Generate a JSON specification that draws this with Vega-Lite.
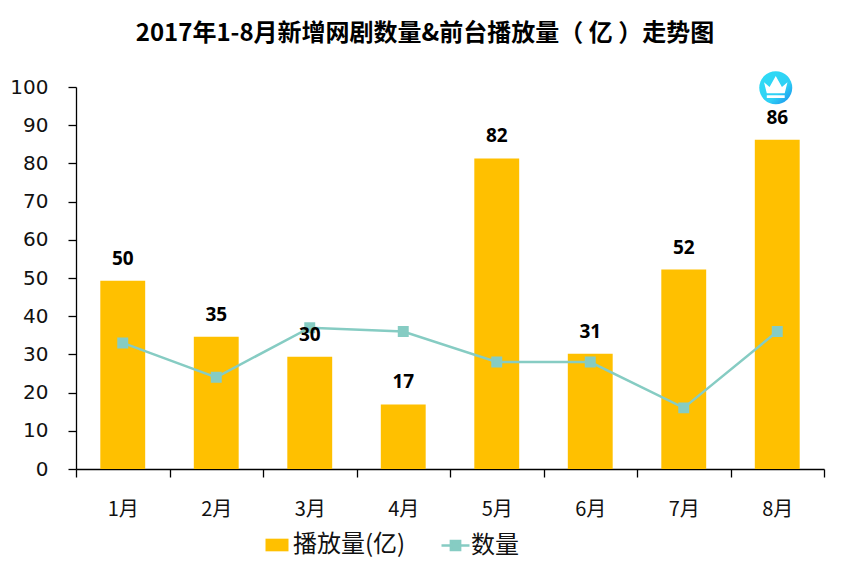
{
"$schema":"https://vega.github.io/schema/vega-lite/v6.json",
"width":748,"height":382,
"autosize":{"type":"none"},
"padding":{"left":76,"top":87,"right":28,"bottom":101},
"background":"white",
"title":{"text":"2017年1-8月新增网剧数量&前台播放量（ 亿 ）走势图","font":"Noto Sans CJK SC","fontSize":24,"fontWeight":"bold","color":"#000000","anchor":"middle","offset":25,"dx":-25,"frame":"group"},
"config":{"view":{"stroke":null}},
"resolve":{"axis":{"y":"independent"},"scale":{"y":"shared"}},
"data":{"values":[
{"month":"1月","play":49.3,"count":33,"label":50},
{"month":"2月","play":34.6,"count":24,"label":35},
{"month":"3月","play":29.4,"count":37,"label":30},
{"month":"4月","play":16.9,"count":36,"label":17},
{"month":"5月","play":81.3,"count":28,"label":82},
{"month":"6月","play":30.2,"count":28,"label":31},
{"month":"7月","play":52.2,"count":16,"label":52},
{"month":"8月","play":86.2,"count":36,"label":86}
]},
"encoding":{"x":{"field":"month","type":"nominal","sort":null,"scale":{"paddingInner":0,"paddingOuter":0},
"axis":{"title":null,"labelAngle":0,"labelFont":"Noto Sans CJK SC","labelFontSize":20,"labelColor":"#111111","labelPadding":22,"tickBand":"extent","tickSize":8,"tickColor":"#000000","domainColor":"#000000","tickWidth":1.3,"domainWidth":1.3,"grid":false}}},
"layer":[
{"mark":{"type":"bar","width":{"band":0.48}},
"encoding":{"y":{"field":"play","type":"quantitative","scale":{"domain":[0,100],"nice":false},
"axis":{"title":null,"values":[0,10,20,30,40,50,60,70,80,90,100],"labelOverlap":false,"labelFont":"DejaVu Sans","labelFontSize":20,"labelColor":"#111111","labelPadding":20,"tickSize":8,"tickColor":"#000000","domainColor":"#000000","tickWidth":1.3,"domainWidth":1.3,"grid":false}},
"fill":{"datum":"播放量(亿)","scale":{"range":["#FFC000"]},"legend":{"title":null,"orient":"none","legendX":189,"legendY":446,"symbolType":"M-1,-0.55H1V0.55H-1Z","symbolSize":529,"symbolStrokeWidth":0,"labelFont":"Noto Sans CJK SC","labelFontSize":24,"labelColor":"#111111","labelOffset":4}}}},
{"mark":{"type":"line","strokeWidth":2.5,"point":{"shape":"square","size":80,"filled":true,"fill":"#86CCC3"}},
"encoding":{"y":{"field":"count","type":"quantitative","axis":null},
"stroke":{"datum":"数量","scale":{"range":["#86CCC3"]},"legend":{"title":null,"orient":"none","legendX":364,"legendY":443,"symbolType":"M-1,0H1M-0.33,-0.33H0.33V0.33H-0.33Z","symbolSize":784,"symbolStrokeWidth":2.5,"symbolFillColor":"#86CCC3","labelFont":"Noto Sans CJK SC","labelFontSize":24,"labelColor":"#111111","labelOffset":0}}}},
{"mark":{"type":"text","font":"Open Sans","fontSize":19,"fontWeight":"bold","color":"#000000","dy":-22},
"encoding":{"y":{"field":"play","type":"quantitative","axis":null},"text":{"field":"label","type":"quantitative"}}},
{"transform":[{"filter":"datum.month === '8月'"},{"calculate":"99.8","as":"crown"}],
"mark":{"type":"point","shape":"circle","filled":true,"size":1089,"opacity":1,"xOffset":-1.5,"fill":{"gradient":"linear","x1":0.2,"y1":0.2,"x2":0.9,"y2":0.9,"stops":[{"offset":0,"color":"#2FD9F5"},{"offset":0.6,"color":"#2FD0F5"},{"offset":1,"color":"#1E9BEE"}]}},
"encoding":{"y":{"field":"crown","type":"quantitative","axis":null}}},
{"transform":[{"filter":"datum.month === '8月'"},{"calculate":"99.8","as":"crown"}],
"mark":{"type":"point","filled":true,"size":760,"opacity":1,"xOffset":-1.5,"fill":"#FFFFFF","shape":"M-0.85,-0.4L-0.45,-0.05L0,-0.85L0.45,-0.05L0.85,-0.4L0.65,0.4L-0.65,0.4ZM-0.65,0.55H0.65V0.75H-0.65Z"},
"encoding":{"y":{"field":"crown","type":"quantitative","axis":null}}}
]
}
